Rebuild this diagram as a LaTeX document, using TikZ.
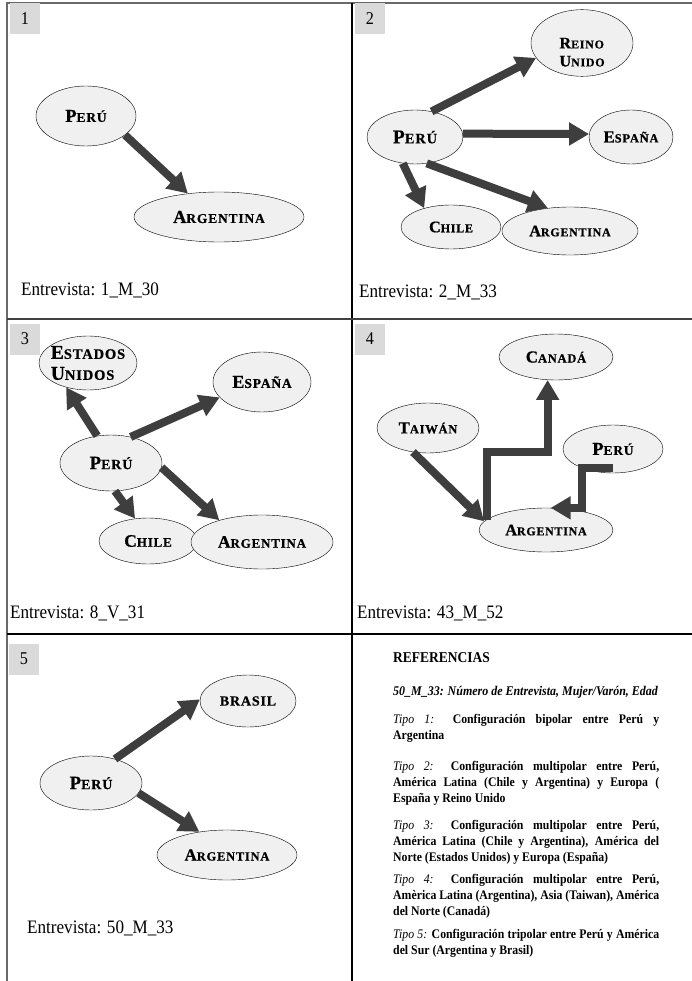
\documentclass[tikz,border=0pt]{standalone}
\usepackage{fontspec}
\usepackage{graphicx}
\setmainfont[FakeStretch=0.9]{Liberation Serif}
\newfontfamily\paisfont[LetterSpace=6, BoldFont={Liberation Serif Bold}, BoldFeatures={FakeBold=0.6}]{Liberation Serif}
\usetikzlibrary{shapes.geometric, arrows.meta}
\definecolor{relleno}{RGB}{240,240,240}
\definecolor{flechagris}{RGB}{62,62,62}
\definecolor{cajagris}{RGB}{218,218,218}
\definecolor{bordegris}{RGB}{105,105,105}
\newcommand\fs[1]{\fontsize{#1}{#1}\selectfont}
\newcommand\pc[3][13]{{\fs{#1}\scalebox{1.35}{#2}#3}}
\newcommand\tipo[1]{{\mdseries\itshape Tipo #1}}
\newcommand\refs[1]{\parbox[t]{266pt}{\fontsize{13.1}{16.3}\selectfont #1}}
\tikzstyle{pais}=[ellipse, draw=black, fill=relleno, inner sep=0pt, font=\paisfont\bfseries]
\tikzstyle{flecha}=[draw=flechagris, line width=8pt, -{Triangle[width=22pt,length=20pt]}]
\tikzstyle{numero}=[rectangle, fill=cajagris, minimum width=30pt, minimum height=31pt, inner sep=0pt, font=\fs{18}]
\tikzstyle{entrevista}=[anchor=base west, inner sep=0pt, font=\fs{19}]
\tikzstyle{parrafo}=[anchor=base west, inner sep=0pt, font=\bfseries]

\begin{document}
\begin{tikzpicture}[x=1pt, y=-1pt]
            \useasboundingbox (0,0) rectangle (692,981);
            %Table lines
            \draw[bordegris, line width=1.5pt] (7,981) -- (7,3) -- (692,3);
            \draw[black, line width=1.3pt] (352,3) -- (352,981);
            \draw[black!75, line width=1.2pt] (7,319) -- (692,319);
            \draw[black, line width=2pt] (7,634) -- (692,634);

            %Number boxes and interview labels
            \foreach \n/\x/\y in {1/25/19, 2/370/19, 3/25/339, 4/370/339, 5/24/659}{
                \node[numero] (num\n) at (\x,\y) {\n};
            }
            \foreach \t/\x/\y [count=\n] in {1\_M\_30/21/295, 2\_M\_33/359/297, 8\_V\_31/10/618, 43\_M\_52/357/618, 50\_M\_33/27/933}{
                \node[entrevista] (ent\n) at (\x,\y) {Entrevista: \t};
            }

            %Panel 1
            \node[pais, minimum width=100pt, minimum height=60pt] (peru1) at (86,116) {\pc[13.5]{P}{ERÚ}};
            \node[pais, minimum width=170pt, minimum height=50pt] (arg1) at (219,217) {\pc[13.5]{A}{RGENTINA}};
            \draw[flecha] (peru1.-26) -- (arg1.143);

            %Panel 2
            \node[pais, minimum width=102pt, minimum height=64pt, align=left] (reino) at (582,43) {\rule{0pt}{29pt}\pc[12]{R}{EINO}\\[6pt]\pc[12]{U}{NIDO}};
            \node[pais, minimum width=96pt, minimum height=54pt] (peru2) at (415,137) {\pc[14.5]{P}{ERÚ}};
            \node[pais, minimum width=84pt, minimum height=54pt] (espana2) at (631,137) {\pc[12.5]{E}{SPAÑA}};
            \node[pais, minimum width=100pt, minimum height=44pt] (chile2) at (451,227) {\pc[12]{C}{HILE}};
            \node[pais, minimum width=136pt, minimum height=48pt] (arg2) at (570,231) {\pc[12]{A}{RGENTINA}};
            \draw[flecha] (peru2.57) -- (reino.198);
            \draw[flecha] (peru2.4) -- (espana2.176);
            \draw[flecha] (peru2.245) -- (chile2.145);
            \draw[flecha] (peru2.-66) -- (arg2.134);

            %Panel 3
            \node[pais, minimum width=98pt, minimum height=54pt, align=left, inner xsep=-18pt] (eeuu) at (88,363) {\pc[14.5]{E}{STADOS}\\[7pt]\pc[14.5]{U}{NIDOS}};
            \node[pais, minimum width=98pt, minimum height=60pt] (espana3) at (262,382) {\pc[13.5]{E}{SPAÑA}};
            \node[pais, minimum width=102pt, minimum height=56pt] (peru3) at (111,463) {\pc[14]{P}{ERÚ}};
            \node[pais, minimum width=98pt, minimum height=46pt] (chile3) at (148,541) {\pc[13]{C}{HILE}};
            \node[pais, minimum width=142pt, minimum height=54pt] (arg3) at (262,542) {\pc[13]{A}{RGENTINA}};
            \draw[flecha] (peru3.117) -- (eeuu.-132);
            \draw[flecha] (peru3.53) -- (espana3.200);
            \draw[flecha] (peru3.-82) -- (chile3.120);
            \draw[flecha] (peru3.-5) -- (arg3.153);

            %Panel 4
            \node[pais, minimum width=114pt, minimum height=46pt] (canada) at (556,357) {\pc[12.5]{C}{ANADÁ}};
            \node[pais, minimum width=102pt, minimum height=50pt] (taiwan) at (428,428) {\pc[12.5]{T}{AIWÁN}};
            \node[pais, minimum width=100pt, minimum height=48pt] (peru4) at (613,449) {\pc[13.5]{P}{ERÚ}};
            \node[pais, minimum width=134pt, minimum height=44pt] (arg4) at (546,530) {\pc[12]{A}{RGENTINA}};
            \draw[flecha] (taiwan.-122) -- (arg4.172);
            \draw[flecha] (arg4.170) -- ++(0,-68) -| (canada.-110);
            \draw[flecha] ([yshift=5pt]peru4.south) -- ++(-31,0) |- (arg4.78);

            %Panel 5
            \node[pais, minimum width=96pt, minimum height=52pt] (brasil) at (248,701) {\fs{14}BRASIL};
            \node[pais, minimum width=102pt, minimum height=54pt] (peru5) at (91,783) {\pc[14]{P}{ERÚ}};
            \node[pais, minimum width=140pt, minimum height=50pt] (arg5) at (227,855) {\pc[12.5]{A}{RGENTINA}};
            \draw[flecha] (peru5.45) -- (brasil.178);
            \draw[flecha] (peru5.-12) -- (arg5.140);

            %References
            \node[parrafo, font=\bfseries\fs{15}] (ref0) at (393,662) {REFERENCIAS};
            \node[parrafo, font=\bfseries\itshape\fs{13.3}] (ref1) at (393,695) {50\_M\_33: Número de Entrevista, Mujer/Varón, Edad};
            \node[parrafo] (ref2) at (393,723) {\refs{\tipo{1:} Configuración bipolar entre Perú y\linebreak Argentina}};
            \node[parrafo] (ref3) at (393,770) {\refs{\tipo{2:} Configuración multipolar entre Perú,\linebreak América Latina (Chile y Argentina) y Europa (\linebreak España y Reino Unido}};
            \node[parrafo] (ref4) at (393,829) {\refs{\tipo{3:} Configuración multipolar entre Perú,\linebreak América Latina (Chile y Argentina), América del\linebreak Norte (Estados Unidos) y Europa (España)}};
            \node[parrafo] (ref5) at (393,883) {\refs{\tipo{4:} Configuración multipolar entre Perú,\linebreak Amèrica Latina (Argentina), Asia (Taiwan), América\linebreak del Norte (Canadá)}};
            \node[parrafo] (ref6) at (393,938) {\refs{\tipo{5:} Configuración tripolar entre Perú y América\linebreak del Sur (Argentina y Brasil)}};
        \end{tikzpicture}
\end{document}
